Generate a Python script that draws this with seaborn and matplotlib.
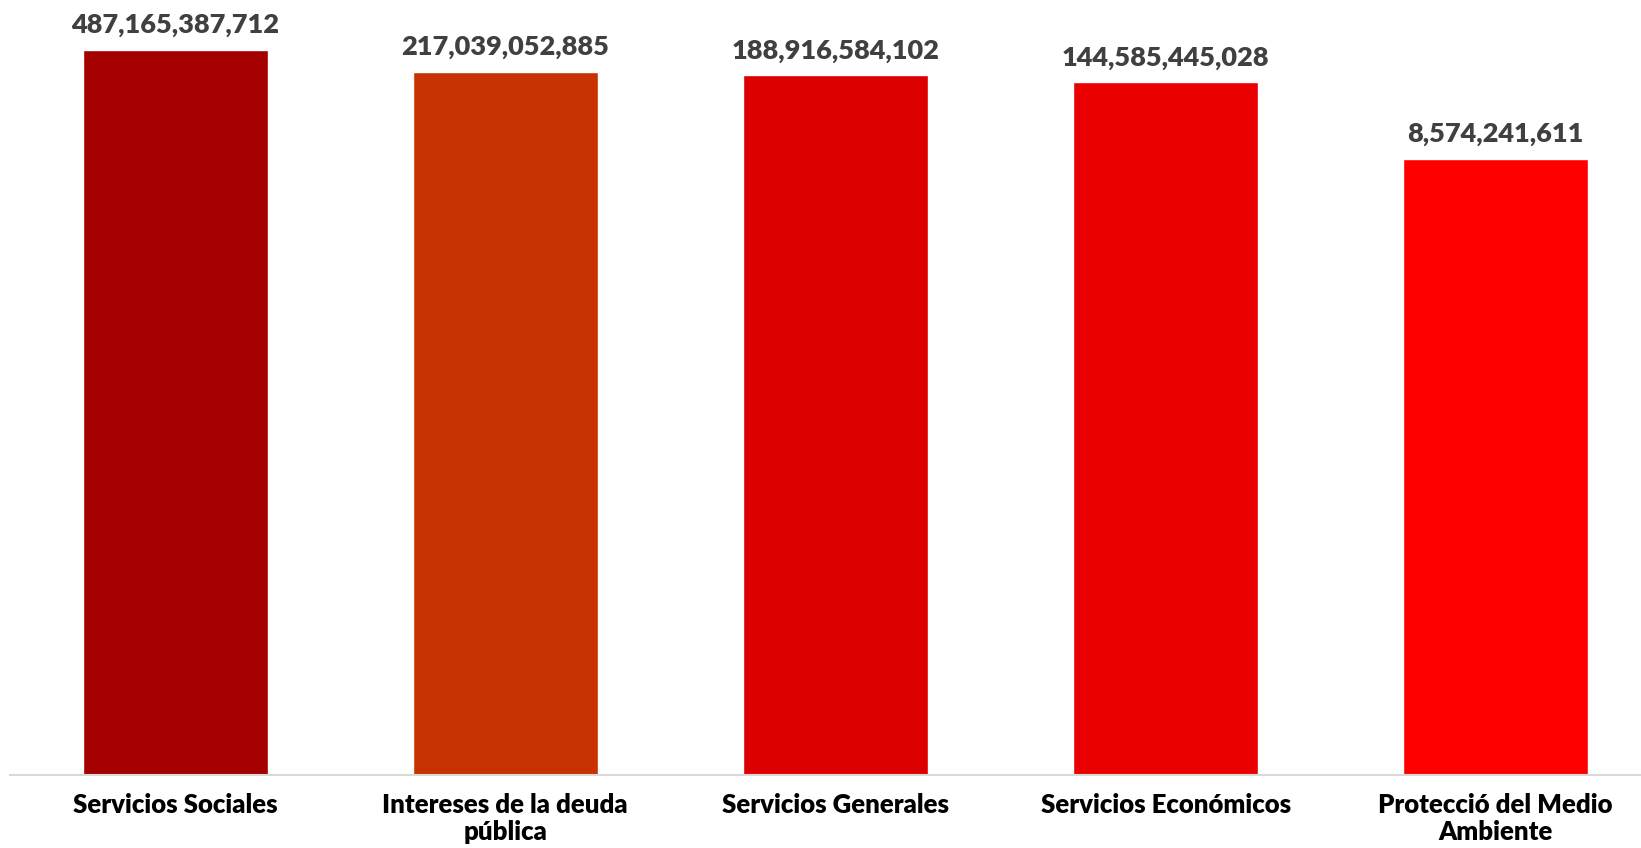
import matplotlib.pyplot as plt
import pandas as pd
import seaborn as sns

categories = [
    "Servicios Sociales",
    "Intereses de la deuda\npública",
    "Servicios Generales",
    "Servicios Económicos",
    "Protecció del Medio\nAmbiente",
]
values = [487165387712, 217039052885, 188916584102, 144585445028, 8574241611]
colors = ["#A50000", "#C83200", "#DC0000", "#EB0000", "#FF0000"]

df = pd.DataFrame({"Categoria": categories, "Monto": values})

sns.set_style("white")
plt.rcParams["font.family"] = ["Lato", "DejaVu Sans"]

fig = plt.figure(figsize=(16.41, 8.48), dpi=100)
ax = fig.add_axes([10 / 1641, 73.5 / 848, 1631 / 1641, 774.5 / 848])

sns.barplot(data=df, x="Categoria", y="Monto", hue="Categoria", palette=colors,
            width=0.56, saturation=1, legend=False, ax=ax)
ax.set_yscale("log")
ax.set_ylim(1, 10 ** 12.49)
ax.set_xlim(-0.5, 4.44)

for container, v in zip(ax.containers, values):
    ax.bar_label(container, labels=[f"{v:,}"], padding=9, fontsize=19.5,
                 fontweight="heavy", color="#404040")

ax.set_xlabel("")
ax.set_ylabel("")
ax.set_yticks([])
ax.minorticks_off()
ax.tick_params(axis="x", length=0, pad=13)
for lbl in ax.get_xticklabels():
    lbl.set_fontsize(18.5)
    lbl.set_fontweight("heavy")
    lbl.set_color("black")
    lbl.set_linespacing(1.15)
    lbl.set_verticalalignment("top")

sns.despine(left=True)
ax.spines["bottom"].set_color("#D9D9D9")
ax.spines["bottom"].set_linewidth(1.5)

fig.savefig("out.png", dpi=100)
